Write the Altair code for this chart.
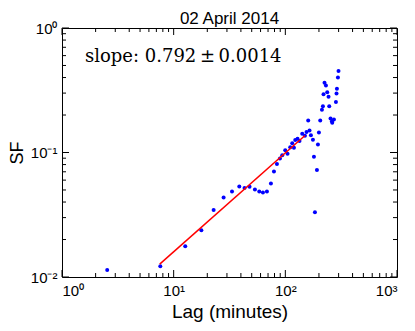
import altair as alt
import pandas as pd

# ---- data ----
lag_minutes = [2.54, 7.59, 12.7, 17.7, 22.8, 28.0, 33.3, 38.7, 43.1, 47.8, 53.4, 58.4,
               63.0, 68.4, 74.3, 79.1, 84.1, 89.5, 93.8, 99.8, 104.6, 110.6, 115.3,
               119.4, 122.7, 128.6, 134.0, 141.7, 149.8, 154.8, 164.7, 160.3, 169.5,
               176.7, 180.4, 184.1, 191.9, 195.9, 199.9, 205.4, 212.7, 217.1, 219.8,
               224.4, 231.0, 237.2, 243.7, 247.2, 254.0, 261.4, 272.4, 283.8, 287.4,
               289.7, 295.8, 299.5, 263.0]
sf_values = [0.0114, 0.0122, 0.0177, 0.0237, 0.0346, 0.0436, 0.0487, 0.0534, 0.0519,
             0.0531, 0.0505, 0.0487, 0.0478, 0.0487, 0.0564, 0.0703, 0.0810, 0.0893,
             0.0950, 0.1041, 0.0978, 0.1100, 0.1184, 0.1092, 0.1258, 0.1288, 0.1235,
             0.1412, 0.1361, 0.1464, 0.1502, 0.1805, 0.1378, 0.1265, 0.0926, 0.0331,
             0.0722, 0.1162, 0.1449, 0.1805, 0.2209, 0.2347, 0.2941, 0.3625, 0.3450,
             0.3051, 0.2804, 0.2347, 0.1873, 0.1782, 0.1839, 0.2540, 0.2979, 0.3247,
             0.3996, 0.4519, 0.1734]
fit_lag = [7.5, 150.0]
fit_sf = [0.0127, 0.137]
slope_text = "slope: 0.792\u2009\u00b1\u20090.0014"
title_text = "02 April 2014"

x_major = [1, 10, 100, 1000]
x_major_labels = ["10\u2070", "10\u00b9", "10\u00b2", "10\u00b3"]
y_major = [0.01, 0.1, 1]
y_major_labels = ["10\u207b\u00b2", "10\u207b\u00b9", "10\u2070"]
x_minor = [k * 10 ** d for d in range(0, 3) for k in range(2, 10)]
y_minor = [k * 10.0 ** d for d in range(-2, 0) for k in range(2, 10)]

W, H = 335, 249
FONT = "Liberation Sans"

xs = alt.Scale(type="log", domain=[1, 1000], nice=False)
ys = alt.Scale(type="log", domain=[0.01, 1], nice=False)


def label_expr(vals, labels):
    expr = "''"
    for v, l in zip(vals, labels):
        expr = f"abs(datum.value - {v}) < {v}*1e-6 ? '{l}' : " + expr
    return expr


xaxis = alt.Axis(values=x_major, labelExpr=label_expr(x_major, x_major_labels),
                 ticks=False, domain=False, grid=False, labelFont=FONT, labelFontSize=15,
                 labelColor="black", labelPadding=6, title="Lag (minutes)",
                 titleFont=FONT, titleFontSize=19, titleFontWeight="normal",
                 titleColor="black", titlePadding=4)
yaxis = alt.Axis(values=y_major, labelExpr=label_expr(y_major, y_major_labels),
                 ticks=False, domain=False, grid=False, labelFont=FONT, labelFontSize=15,
                 labelColor="black", labelPadding=5, title="SF",
                 titleFont=FONT, titleFontSize=18, titleFontWeight="normal",
                 titleColor="black", titlePadding=4)

pts = pd.DataFrame({"lag": lag_minutes, "sf": sf_values})
fit = pd.DataFrame({"lag": fit_lag, "sf": fit_sf})

points = alt.Chart(pts).mark_point(filled=True, shape="circle", size=16,
                                   color="#0000ff", opacity=1).encode(
    x=alt.X("lag:Q", scale=xs, axis=xaxis),
    y=alt.Y("sf:Q", scale=ys, axis=yaxis),
)
line = alt.Chart(fit).mark_line(color="#ff0000", strokeWidth=1.5).encode(
    x=alt.X("lag:Q", scale=xs, axis=xaxis), y=alt.Y("sf:Q", scale=ys, axis=yaxis))

note = alt.Chart(pd.DataFrame({"t": [slope_text]})).mark_text(
    align="left", baseline="alphabetic", font="DejaVu Serif", fontSize=18,
    color="black").encode(x=alt.value(23), y=alt.value(34), text="t:N")

title = alt.Chart(pd.DataFrame({"t": [title_text]})).mark_text(
    align="center", baseline="alphabetic", font=FONT, fontSize=17,
    color="black").encode(x=alt.value(W / 2), y=alt.value(-4), text="t:N")


def xticks(vals, length):
    d = pd.DataFrame({"lag": vals})
    base = alt.Chart(d).mark_rule(color="black", strokeWidth=1)
    top = base.encode(x=alt.X("lag:Q", scale=xs, axis=xaxis),
                      y=alt.value(0), y2=alt.value(length))
    bot = base.encode(x=alt.X("lag:Q", scale=xs, axis=xaxis),
                      y=alt.value(H), y2=alt.value(H - length))
    return [top, bot]


def yticks(vals, length):
    d = pd.DataFrame({"sf": vals})
    base = alt.Chart(d).mark_rule(color="black", strokeWidth=1)
    left = base.encode(y=alt.Y("sf:Q", scale=ys, axis=yaxis),
                       x=alt.value(0), x2=alt.value(length))
    right = base.encode(y=alt.Y("sf:Q", scale=ys, axis=yaxis),
                        x=alt.value(W), x2=alt.value(W - length))
    return [left, right]


layers = [points, line, note, title]
layers += xticks(x_major, 7) + xticks(x_minor, 4)
layers += yticks(y_major, 7) + yticks(y_minor, 4)

chart = alt.layer(*layers).properties(
    width=W, height=H,
    autosize=alt.AutoSizeParams(type="none"),
    padding={"left": 54, "top": 20, "right": 10, "bottom": 45},
    background="white",
).configure_view(stroke="black", strokeWidth=1)

chart.save("out.html", embed_options={"renderer": "svg", "actions": False})
